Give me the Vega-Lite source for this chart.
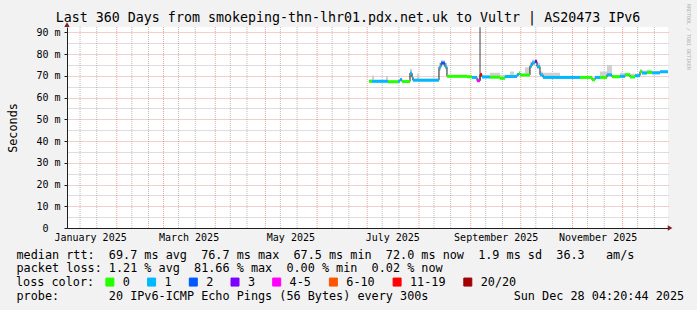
{
  "$schema": "https://vega.github.io/schema/vega-lite/v6.json",
  "width": 601,
  "height": 201,
  "autosize": {"type": "none"},
  "padding": {"left": 67, "top": 27, "right": 29, "bottom": 82},
  "background": "#f2f2f2",
  "config": {"view": {"stroke": null, "fill": "#ffffff"}, "font": "DejaVu Sans Mono"},
  "title": {"text": "Last 360 Days from smokeping-thn-lhr01.pdx.net.uk to Vultr | AS20473 IPv6", "font": "DejaVu Sans Mono", "fontSize": 13.3, "fontWeight": "normal", "color": "#000000", "anchor": "middle", "frame": "group", "dx": -19.5, "dy": 25, "offset": 4},
  "datasets": {
    "main": [
      {"t":"2025-07-02T02:00","t2":"2025-07-03T21:00","v":67.5,"lo":67.1,"hi":68.3,"loss":"0"},
      {"t":"2025-07-03T21:00","t2":"2025-07-05T02:00","v":67.5,"lo":67.1,"hi":70.2,"loss":"1"},
      {"t":"2025-07-05T02:00","t2":"2025-07-12T06:00","v":67.5,"lo":67.1,"hi":68.2,"loss":"1"},
      {"t":"2025-07-12T06:00","t2":"2025-07-13T11:00","v":67.5,"lo":67.1,"hi":70.0,"loss":"1"},
      {"t":"2025-07-13T11:00","t2":"2025-07-19T11:00","v":67.3,"lo":66.9,"hi":68.0,"loss":"0"},
      {"t":"2025-07-19T11:00","t2":"2025-07-20T16:00","v":67.5,"lo":67.1,"hi":68.2,"loss":"1"},
      {"t":"2025-07-20T16:00","t2":"2025-07-21T20:00","v":68.3,"lo":67.9,"hi":69.0,"loss":"1"},
      {"t":"2025-07-21T20:00","t2":"2025-07-26T15:00","v":67.4,"lo":67.0,"hi":68.0,"loss":"0"},
      {"t":"2025-07-26T15:00","t2":"2025-07-27T20:00","v":71.3,"lo":69.0,"hi":73.2,"loss":"1"},
      {"t":"2025-07-27T20:00","t2":"2025-07-28T10:00","v":69.5,"lo":68.0,"hi":71.0,"loss":"1"},
      {"t":"2025-07-28T10:00","t2":"2025-07-30T20:00","v":68.0,"lo":67.6,"hi":68.7,"loss":"1"},
      {"t":"2025-07-30T20:00","t2":"2025-08-01T01:00","v":68.0,"lo":67.6,"hi":70.8,"loss":"1"},
      {"t":"2025-08-01T01:00","t2":"2025-08-13T00:00","v":68.0,"lo":67.6,"hi":68.7,"loss":"1"},
      {"t":"2025-08-13T00:00","t2":"2025-08-14T05:00","v":74.0,"lo":72.5,"hi":76.0,"loss":"1"},
      {"t":"2025-08-14T05:00","t2":"2025-08-16T14:00","v":75.9,"lo":74.5,"hi":77.2,"loss":"2"},
      {"t":"2025-08-16T14:00","t2":"2025-08-17T19:00","v":74.2,"lo":73.0,"hi":76.0,"loss":"1"},
      {"t":"2025-08-17T19:00","t2":"2025-08-29T19:00","v":69.8,"lo":69.4,"hi":70.4,"loss":"0"},
      {"t":"2025-08-29T19:00","t2":"2025-09-01T19:00","v":69.6,"lo":69.2,"hi":70.3,"loss":"0"},
      {"t":"2025-09-01T19:00","t2":"2025-09-04T18:00","v":69.3,"lo":68.9,"hi":70.0,"loss":"1"},
      {"t":"2025-09-04T18:00","t2":"2025-09-06T14:00","v":67.8,"lo":67.4,"hi":69.0,"loss":"4-5"},
      {"t":"2025-09-06T14:00","t2":"2025-09-07T18:00","v":70.6,"lo":69.5,"hi":71.5,"loss":"11-19"},
      {"t":"2025-09-07T18:00","t2":"2025-09-12T13:00","v":69.5,"lo":69.1,"hi":70.2,"loss":"1"},
      {"t":"2025-09-12T13:00","t2":"2025-09-18T13:00","v":69.4,"lo":69.0,"hi":71.5,"loss":"0"},
      {"t":"2025-09-18T13:00","t2":"2025-09-21T13:00","v":68.9,"lo":68.5,"hi":70.5,"loss":"0"},
      {"t":"2025-09-21T13:00","t2":"2025-09-24T13:00","v":69.7,"lo":69.3,"hi":70.5,"loss":"1"},
      {"t":"2025-09-24T13:00","t2":"2025-09-26T22:00","v":69.7,"lo":69.3,"hi":72.0,"loss":"1"},
      {"t":"2025-09-26T22:00","t2":"2025-09-28T18:00","v":69.7,"lo":69.3,"hi":70.5,"loss":"1"},
      {"t":"2025-09-28T18:00","t2":"2025-09-29T22:00","v":70.6,"lo":70.2,"hi":71.3,"loss":"1"},
      {"t":"2025-09-29T22:00","t2":"2025-09-30T13:00","v":71.3,"lo":70.9,"hi":72.0,"loss":"0"},
      {"t":"2025-09-30T13:00","t2":"2025-10-03T12:00","v":70.4,"lo":70.0,"hi":71.0,"loss":"0"},
      {"t":"2025-10-03T12:00","t2":"2025-10-06T12:00","v":70.4,"lo":70.0,"hi":74.0,"loss":"0"},
      {"t":"2025-10-06T12:00","t2":"2025-10-07T17:00","v":74.6,"lo":73.5,"hi":76.5,"loss":"1"},
      {"t":"2025-10-07T17:00","t2":"2025-10-09T12:00","v":76.0,"lo":75.0,"hi":77.5,"loss":"1"},
      {"t":"2025-10-09T12:00","t2":"2025-10-10T17:00","v":76.7,"lo":75.5,"hi":77.5,"loss":"3"},
      {"t":"2025-10-10T17:00","t2":"2025-10-12T12:00","v":74.3,"lo":73.0,"hi":76.0,"loss":"1"},
      {"t":"2025-10-12T12:00","t2":"2025-10-14T07:00","v":70.5,"lo":70.1,"hi":72.0,"loss":"1"},
      {"t":"2025-10-14T07:00","t2":"2025-10-24T12:00","v":69.3,"lo":68.9,"hi":71.5,"loss":"1"},
      {"t":"2025-10-24T12:00","t2":"2025-11-05T11:00","v":69.3,"lo":68.9,"hi":70.0,"loss":"1"},
      {"t":"2025-11-05T11:00","t2":"2025-11-12T16:00","v":69.3,"lo":68.9,"hi":70.0,"loss":"0"},
      {"t":"2025-11-12T16:00","t2":"2025-11-14T11:00","v":68.2,"lo":67.8,"hi":69.0,"loss":"0"},
      {"t":"2025-11-14T11:00","t2":"2025-11-17T11:00","v":69.3,"lo":68.9,"hi":70.0,"loss":"1"},
      {"t":"2025-11-17T11:00","t2":"2025-11-21T15:00","v":69.3,"lo":68.9,"hi":72.0,"loss":"0"},
      {"t":"2025-11-21T15:00","t2":"2025-11-24T15:00","v":70.5,"lo":70.1,"hi":75.0,"loss":"1"},
      {"t":"2025-11-24T15:00","t2":"2025-11-29T10:00","v":69.6,"lo":69.2,"hi":70.5,"loss":"0"},
      {"t":"2025-11-29T10:00","t2":"2025-12-02T10:00","v":69.8,"lo":69.4,"hi":71.5,"loss":"1"},
      {"t":"2025-12-02T10:00","t2":"2025-12-05T10:00","v":70.5,"lo":70.1,"hi":71.5,"loss":"0"},
      {"t":"2025-12-05T10:00","t2":"2025-12-08T10:00","v":69.5,"lo":69.1,"hi":71.0,"loss":"0"},
      {"t":"2025-12-08T10:00","t2":"2025-12-11T10:00","v":70.1,"lo":69.7,"hi":71.0,"loss":"1"},
      {"t":"2025-12-11T10:00","t2":"2025-12-12T15:00","v":72.0,"lo":71.5,"hi":73.0,"loss":"0"},
      {"t":"2025-12-12T15:00","t2":"2025-12-15T14:00","v":71.3,"lo":70.9,"hi":72.5,"loss":"1"},
      {"t":"2025-12-15T14:00","t2":"2025-12-18T14:00","v":71.6,"lo":71.2,"hi":72.8,"loss":"0"},
      {"t":"2025-12-18T14:00","t2":"2025-12-23T09:00","v":71.4,"lo":71.0,"hi":72.3,"loss":"1"},
      {"t":"2025-12-23T09:00","t2":"2025-12-28T04:00","v":71.9,"lo":71.5,"hi":72.5,"loss":"1"},
      {"t":"2025-12-28T04:00","t2":"2025-12-28T04:00","v":71.9,"lo":71.5,"hi":72.5,"loss":"1"}
    ],
    "spike": [{"t":"2025-09-06T14:00","y":67.8,"y2":92.4}],
    "vmajor": [
      {"t":"2025-02-01T00:00"},{"t":"2025-03-01T00:00"},{"t":"2025-04-01T00:00"},{"t":"2025-05-01T00:00"},
      {"t":"2025-06-01T00:00"},{"t":"2025-07-01T00:00"},{"t":"2025-08-01T00:00"},{"t":"2025-09-01T00:00"},
      {"t":"2025-10-01T00:00"},{"t":"2025-11-01T00:00"},{"t":"2025-12-01T00:00"}
    ],
    "vminor": [
      {"t":"2025-01-10T00:00"},{"t":"2025-01-20T00:00"},{"t":"2025-02-10T00:00"},{"t":"2025-02-20T00:00"},
      {"t":"2025-03-10T00:00"},{"t":"2025-03-20T00:00"},{"t":"2025-04-10T00:00"},{"t":"2025-04-20T00:00"},
      {"t":"2025-05-10T00:00"},{"t":"2025-05-20T00:00"},{"t":"2025-06-10T00:00"},{"t":"2025-06-20T00:00"},
      {"t":"2025-07-10T00:00"},{"t":"2025-07-20T00:00"},{"t":"2025-08-10T00:00"},{"t":"2025-08-20T00:00"},
      {"t":"2025-09-10T00:00"},{"t":"2025-09-20T00:00"},{"t":"2025-10-10T00:00"},{"t":"2025-10-20T00:00"},
      {"t":"2025-11-10T00:00"},{"t":"2025-11-20T00:00"},{"t":"2025-12-10T00:00"},{"t":"2025-12-20T00:00"}
    ],
    "xarrow": [{"t":"2025-12-29T10:00","v":0}],
    "yarrow": [{"t":"2025-01-02T04:20:44","v":93.6}]
  },
  "encoding": {
    "x": {
      "field": "t", "type": "temporal",
      "scale": {"domain": [{"year":2025,"month":1,"date":2,"hours":4,"minutes":20,"seconds":44},{"year":2025,"month":12,"date":28,"hours":4,"minutes":20,"seconds":44}]},
      "axis": {
        "values": [{"year":2025,"month":1,"date":16},{"year":2025,"month":3,"date":16},{"year":2025,"month":5,"date":16},{"year":2025,"month":7,"date":16},{"year":2025,"month":9,"date":16},{"year":2025,"month":11,"date":16}],
        "labelExpr": "timeFormat(datum.value, '%B %Y')",
        "ticks": false, "grid": false, "domainColor": "#1f1f1f", "domainWidth": 1,
        "labelFont": "DejaVu Sans Mono", "labelFontSize": 10, "labelColor": "#000000", "labelPadding": 4,
        "labelFlush": false, "labelOverlap": false,
        "title": [
          "median\u00a0rtt:\u00a0\u00a069.7\u00a0ms\u00a0avg\u00a0\u00a076.7\u00a0ms\u00a0max\u00a0\u00a067.5\u00a0ms\u00a0min\u00a0\u00a072.0\u00a0ms\u00a0now\u00a0\u00a01.9\u00a0ms\u00a0sd\u00a0\u00a036.3\u00a0\u00a0\u00a0am/s",
          "packet\u00a0loss:\u00a01.21\u00a0%\u00a0avg\u00a0\u00a081.66\u00a0%\u00a0max\u00a0\u00a00.00\u00a0%\u00a0min\u00a0\u00a00.02\u00a0%\u00a0now",
          "\u200b",
          "probe:\u00a0\u00a0\u00a0\u00a0\u00a0\u00a0\u00a020\u00a0IPv6-ICMP\u00a0Echo\u00a0Pings\u00a0(56\u00a0Bytes)\u00a0every\u00a0300s\u00a0\u00a0\u00a0\u00a0\u00a0\u00a0\u00a0\u00a0\u00a0\u00a0\u00a0\u00a0Sun\u00a0Dec\u00a028\u00a004:20:44\u00a02025"
        ],
        "titleFont": "DejaVu Sans Mono", "titleFontSize": 11.8, "titleFontWeight": "normal", "titleColor": "#000000",
        "titleAlign": "left", "titleAnchor": "start", "titleX": -51, "titleY": 30, "titleBaseline": "alphabetic",
        "titleLineHeight": 13.8, "titleLimit": 2000
      }
    }
  },
  "resolve": {"axis": {"y": "independent"}},
  "layer": [
    {
      "data": {"name": "vminor"},
      "mark": {"type": "rule", "color": "rgba(143,143,143,0.6)", "strokeDash": [1, 1], "strokeWidth": 1},
      "encoding": {}
    },
    {
      "data": {"name": "vmajor"},
      "mark": {"type": "rule", "color": "rgba(222,79,79,0.55)", "strokeDash": [1, 1], "strokeWidth": 1},
      "encoding": {}
    },
    {
      "data": {"name": "main"},
      "mark": {"type": "area", "interpolate": "step-after", "color": "#d0d0d0"},
      "encoding": {
        "y": {
          "field": "hi", "type": "quantitative",
          "scale": {"domain": [0, 92.5], "nice": false, "zero": false},
          "axis": {
            "values": [0,5,10,15,20,25,30,35,40,45,50,55,60,65,70,75,80,85,90],
            "grid": true,
            "gridColor": {"condition": {"test": "datum.value % 10 === 0", "value": "rgba(222,79,79,0.55)"}, "value": "rgba(143,143,143,0.6)"},
            "gridDash": [1, 1], "gridWidth": 1,
            "tickSize": 3, "tickColor": "#1f1f1f",
            "tickOpacity": {"condition": {"test": "datum.value % 10 === 0", "value": 1}, "value": 0},
            "domainColor": "#1f1f1f",
            "labelExpr": "datum.value % 10 ? '' : (datum.value == 0 ? '0' : datum.value + ' m')",
            "labelFont": "DejaVu Sans Mono", "labelFontSize": 10, "labelColor": "#000000",
            "labelPadding": {"condition": {"test": "datum.value == 0", "value": 16}, "value": 4},
            "labelOverlap": false, "labelFlush": false,
            "title": "Seconds", "titleFont": "DejaVu Sans Mono", "titleFontSize": 11.8, "titleFontWeight": "normal",
            "titleColor": "#000000", "titleAngle": 270, "titleX": -55, "titleY": 100.5, "titleAlign": "center", "titleBaseline": "middle"
          }
        },
        "y2": {"field": "lo"}
      }
    },
    {
      "data": {"name": "spike"},
      "mark": {"type": "rule", "color": "#404040", "strokeWidth": 1},
      "encoding": {
        "y": {
          "field": "y", "type": "quantitative",
          "scale": {"domain": [0, 92.5], "nice": false, "zero": false},
          "axis": {
            "orient": "right", "labels": false, "ticks": false, "domain": false, "grid": false,
            "title": "RRDTOOL / TOBI OETIKER", "titleColor": "#b0b0b0", "titleFont": "DejaVu Sans Mono",
            "titleFontSize": 5, "titleFontWeight": "normal", "titleAngle": 90, "titleX": 20, "titleY": 9.5,
            "titleAlign": "center", "titleBaseline": "middle"
          }
        },
        "y2": {"field": "y2"}
      }
    },
    {
      "data": {"name": "main"},
      "mark": {"type": "line", "interpolate": "step-after", "color": "#1f1f1f", "strokeWidth": 1},
      "encoding": {
        "y": {"field": "v", "type": "quantitative", "scale": {"domain": [0, 92.5], "nice": false, "zero": false}, "axis": null}
      }
    },
    {
      "data": {"name": "main"},
      "mark": {"type": "rule", "strokeWidth": 3},
      "encoding": {
        "x2": {"field": "t2"},
        "y": {"field": "v", "type": "quantitative", "scale": {"domain": [0, 92.5], "nice": false, "zero": false}, "axis": null},
        "color": {
          "field": "loss", "type": "nominal",
          "scale": {"domain": ["0","1","2","3","4-5","6-10","11-19","20/20"], "range": ["#26ff00","#00b8ff","#0059ff","#7e00ff","#ff00ff","#ff5500","#ff0000","#a10000"]},
          "legend": {
            "title": "loss color:", "orient": "none", "legendX": -51, "legendY": 249, "direction": "horizontal",
            "titleOrient": "left", "titleFont": "DejaVu Sans Mono", "titleFontSize": 11.8, "titleFontWeight": "normal",
            "titleColor": "#000000", "titlePadding": 9,
            "labelFont": "DejaVu Sans Mono", "labelFontSize": 11.8, "labelColor": "#000000", "labelOffset": 7,
            "columnPadding": 14.7, "symbolType": "square", "symbolSize": 64, "symbolStrokeWidth": 1, "padding": 0,
            "encode": {"symbols": {"update": {"fill": {"scale": "color", "field": "value"}, "stroke": {"value": "#000000"}, "strokeWidth": {"value": 1}, "opacity": {"value": 1}, "fillOpacity": {"value": 1}}}}
          }
        }
      }
    },
    {
      "data": {"name": "xarrow"},
      "mark": {"type": "point", "shape": "triangle-right", "filled": true, "color": "#801f1f", "size": 28, "opacity": 1},
      "encoding": {"y": {"field": "v", "type": "quantitative", "scale": {"domain": [0, 92.5], "nice": false, "zero": false}, "axis": null}}
    },
    {
      "data": {"name": "yarrow"},
      "mark": {"type": "point", "shape": "triangle-up", "filled": true, "color": "#801f1f", "size": 28, "opacity": 1},
      "encoding": {"y": {"field": "v", "type": "quantitative", "scale": {"domain": [0, 92.5], "nice": false, "zero": false}, "axis": null}}
    }
  ]
}
